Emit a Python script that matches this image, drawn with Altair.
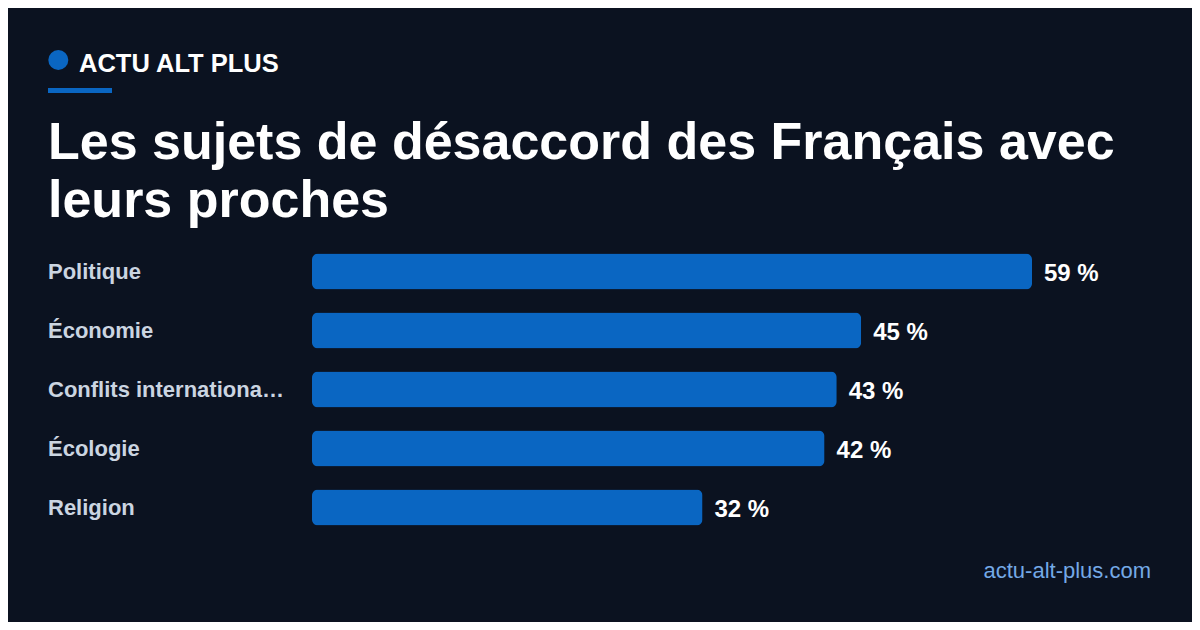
import altair as alt
import pandas as pd

# --- data ---
CATEGORIES = ["Politique", "Économie", "Conflits internationaux", "Écologie", "Religion"]
VALUES = [59, 45, 43, 42, 32]

BRAND = "ACTU ALT PLUS"
TITLE_LINES = ["Les sujets de désaccord des Français avec", "leurs proches"]
SOURCE = "actu-alt-plus.com"

# --- style ---
BG = "#0b1220"
BLUE = "#0a66c2"
LABEL_GREY = "#cbd5e1"
LINK_BLUE = "#74a9e6"
FONT = "Liberation Sans, Arial, Helvetica, sans-serif"

df = pd.DataFrame({"cat": CATEGORIES, "value": VALUES})
df["label"] = df["value"].astype(str) + " %"

x_enc = alt.X("value:Q", scale=alt.Scale(domain=[0, max(VALUES)], nice=False), axis=None)
y_enc = alt.Y(
    "cat:N",
    sort=CATEGORIES,
    scale=alt.Scale(paddingInner=23 / 59, paddingOuter=23 / 118),
    axis=None,
)

base = alt.Chart(df)

bars = base.mark_bar(cornerRadius=6, color=BLUE).encode(x=x_enc, y=y_enc)

values_txt = base.mark_text(
    align="left", baseline="middle", dx=12, dy=2,
    font=FONT, fontSize=24, fontWeight="bold", color="white",
).encode(x=x_enc, y=y_enc, text="label:N")

# long category names get cut with an ellipsis, like the original
cat_txt = base.mark_text(
    align="left", baseline="middle", limit=236,
    font=FONT, fontSize=22, fontWeight="bold", color=LABEL_GREY,
).encode(x=alt.value(-264), y=y_enc, text="cat:N")

# --- header / title / footer decorations ---
one = pd.DataFrame({"k": [0]})

dot = alt.Chart(one).mark_point(filled=True, shape="circle", size=400, color=BLUE, opacity=1).encode(
    x=alt.value(-253.7), y=alt.value(-182)
)
brand_txt = alt.Chart(one).mark_text(
    align="left", baseline="alphabetic", font=FONT, fontSize=25.5, fontWeight="bold", color="white", text=BRAND
).encode(x=alt.value(-233), y=alt.value(-170))
underline = alt.Chart(one).mark_rect(color=BLUE).encode(
    x=alt.value(-264), x2=alt.value(-200), y=alt.value(-154), y2=alt.value(-149)
)
title_txt = alt.Chart(one).mark_text(
    align="left", baseline="alphabetic", font=FONT, fontSize=52, fontWeight="bold",
    color="white", lineHeight=58, text=TITLE_LINES,
).encode(x=alt.value(-264), y=alt.value(-83.5))
footer_txt = alt.Chart(one).mark_text(
    align="right", baseline="alphabetic", font=FONT, fontSize=22, color=LINK_BLUE, text=SOURCE
).encode(x=alt.value(839), y=alt.value(336))

chart = alt.layer(
    bars, values_txt, cat_txt, dot, brand_txt, underline, title_txt, footer_txt
).properties(
    width=720,
    height=295,
    autosize=alt.AutoSizeParams(type="none"),
    padding={"left": 304, "top": 234, "right": 160, "bottom": 85},
    background=BG,
).configure_view(stroke=None)

chart.save("out.html", embed_options={"renderer": "svg", "actions": False})
